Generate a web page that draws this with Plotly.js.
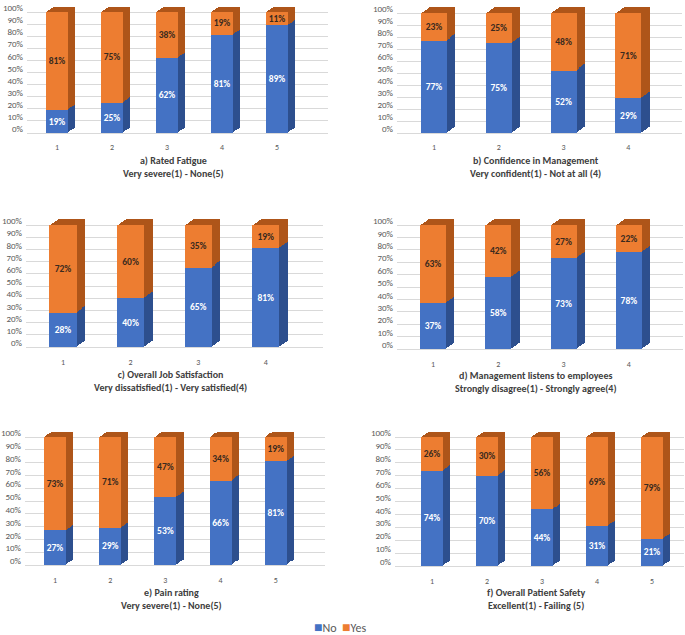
<!DOCTYPE html>
<html>
<head>
<meta charset="utf-8">
<script src="https://cdn.plot.ly/plotly-3.0.1.min.js"></script>
<style>
  html, body { margin: 0; padding: 0; background: #fff; }
  #chart { width: 685px; height: 635px; }
</style>
</head>
<body>
<div id="chart"></div>
<script>
// data (percent of respondents)
const levels5 = [1, 2, 3, 4, 5];
const levels4 = [1, 2, 3, 4];

const fatigueNo = [19, 25, 62, 81, 89];
const fatigueYes = [81, 75, 38, 19, 11];

const confidenceNo = [77, 75, 52, 29];
const confidenceYes = [23, 25, 48, 71];

const satisfactionNo = [28, 40, 65, 81];
const satisfactionYes = [72, 60, 35, 19];

const listensNo = [37, 58, 73, 78];
const listensYes = [63, 42, 27, 22];

const painNo = [27, 29, 53, 66, 81];
const painYes = [73, 71, 47, 34, 19];

const safetyNo = [74, 70, 44, 31, 21];
const safetyYes = [26, 30, 56, 69, 79];

const seriesNames = ['No', 'Yes'];

const panelTitles = [
  ['a) Rated Fatigue', 'Very severe(1) - None(5)'],
  ['b) Confidence in Management', 'Very confident(1) - Not at all (4)'],
  ['c) Overall Job Satisfaction', 'Very dissatisfied(1) - Very satisfied(4)'],
  ['d) Management listens to employees', 'Strongly disagree(1) - Strongly agree(4)'],
  ['e) Pain rating', 'Very severe(1) - None(5)'],
  ['f) Overall Patient Safety', 'Excellent(1) - Failing (5)']
];

const panelData = [
  [levels5, fatigueNo, fatigueYes],
  [levels4, confidenceNo, confidenceYes],
  [levels4, satisfactionNo, satisfactionYes],
  [levels4, listensNo, listensYes],
  [levels5, painNo, painYes],
  [levels5, safetyNo, safetyYes]
];

// where each panel sits, in page pixels
const W = 685, H = 635;
const geom = [
  {tick1: 57,  dx: 55,   top: 12,  bot: 133, left: 27,  right: 328, titleY: 167},
  {tick1: 434, dx: 64.8, top: 13,  bot: 133, left: 397, right: 682, titleY: 167},
  {tick1: 63,  dx: 67.6, top: 225, bot: 347, left: 26,  right: 323, titleY: 381},
  {tick1: 433, dx: 65.3, top: 225, bot: 349, left: 397, right: 683, titleY: 382},
  {tick1: 55,  dx: 55.2, top: 437, bot: 565, left: 25,  right: 325, titleY: 599},
  {tick1: 432, dx: 55,   top: 437, bot: 566, left: 395, right: 684, titleY: 599}
];

const BLUE = '#4472C4', ORANGE = '#ED7D31';
const BLUE_DARK = '#2D4F8E', ORANGE_DARK = '#AE5519';
const FONT = 'Calibri, Carlito, "Liberation Sans Narrow", "Liberation Sans", Arial, sans-serif';
const barW = 0.4;
const pad = 7;
const LAYERS = 6; // extrusion steps for the fake 3D depth

const traces = [];
const layout = {
  width: W, height: H,
  margin: {l: 0, r: 0, t: 0, b: 0},
  paper_bgcolor: '#fff', plot_bgcolor: 'rgba(0,0,0,0)',
  barmode: 'stack',
  showlegend: false,
  font: {family: FONT, color: '#595959'},
  annotations: []
};

panelData.forEach(function (pd, i) {
  const g = geom[i];
  const cats = pd[0], no = pd[1], yes = pd[2];
  const h = g.bot - g.top;
  const pxPerPct = h / 100;
  const barPx = barW * g.dx;
  const sideX = 0.32 * barPx, sideY = 0.24 * barPx;

  const L = 1 + (g.left - g.tick1) / g.dx;
  const R = 1 + (g.right - g.tick1) / g.dx;
  const yLo = -pad, yHi = 100 + pad;
  const domY = [1 - (g.bot + pad * pxPerPct) / H, 1 - (g.top - pad * pxPerPct) / H];
  const domX = [g.left / W, g.right / W];

  const baseIdx = i * (LAYERS + 1) + 1;

  // layer LAYERS is the deepest (base axes), layer 0 is the front face
  for (let k = LAYERS; k >= 0; k--) {
    const idx = baseIdx + (LAYERS - k);
    const sx = sideX * k / LAYERS, sy = sideY * k / LAYERS;
    const xa = {domain: domX, range: [L - sx / g.dx, R - sx / g.dx], anchor: 'y' + idx, fixedrange: true};
    const ya = {domain: domY, range: [yLo - sy / pxPerPct, yHi - sy / pxPerPct], anchor: 'x' + idx, fixedrange: true};
    if (idx !== baseIdx) {
      xa.overlaying = 'x' + baseIdx;
      ya.overlaying = 'y' + baseIdx;
    }
    const front = k === 0;
    if (!front) {
      xa.visible = false;
      ya.visible = false;
    } else {
      Object.assign(xa, {tickmode: 'array', tickvals: cats, ticktext: cats.map(String),
        showgrid: false, zeroline: false, showline: false, ticks: '',
        tickfont: {size: 8, color: '#595959', family: FONT}});
      Object.assign(ya, {tick0: 0, dtick: 10, ticksuffix: '%', showgrid: true, gridcolor: '#D9D9D9',
        gridwidth: 1, zeroline: false, showline: false, ticks: '',
        ticklabelshift: -4, ticklabelstandoff: 3,
        tickfont: {size: 9, color: '#595959', family: FONT}});
    }
    layout['xaxis' + idx] = xa;
    layout['yaxis' + idx] = ya;

    traces.push({type: 'bar', name: seriesNames[0], legendgroup: 'no',
      x: cats, y: no, width: barW, xaxis: 'x' + idx, yaxis: 'y' + idx,
      marker: {color: front ? BLUE : BLUE_DARK, line: {width: 0}},
      text: front ? no.map(v => v + '%') : null, textposition: front ? 'inside' : 'none',
      insidetextanchor: 'middle', textangle: 0, constraintext: 'none',
      textfont: {size: 9.5, color: '#ffffff', family: FONT, weight: 'bold'}, hoverinfo: 'skip'});
    traces.push({type: 'bar', name: seriesNames[1], legendgroup: 'yes',
      x: cats, y: yes, width: barW, xaxis: 'x' + idx, yaxis: 'y' + idx,
      marker: {color: front ? ORANGE : ORANGE_DARK, line: {width: 0}},
      text: front ? yes.map(v => v + '%') : null, textposition: front ? 'inside' : 'none',
      insidetextanchor: 'middle', textangle: 0, constraintext: 'none',
      textfont: {size: 9.5, color: '#3A2A1E', family: FONT, weight: 'bold'}, hoverinfo: 'skip'});
  }

  layout.annotations.push({
    xref: 'paper', yref: 'paper',
    x: ((g.left + g.right) / 2 - 4) / W, y: 1 - g.titleY / H,
    xanchor: 'center', yanchor: 'middle', showarrow: false,
    text: '<b>' + panelTitles[i][0] + '</b><br><b>' + panelTitles[i][1] + '</b>',
    font: {size: 10, color: '#404040', family: FONT}
  });
});

// compact legend like the original (swatch right next to its label)
layout.annotations.push({
  xref: 'paper', yref: 'paper', x: 340 / W, y: 1 - 627 / H,
  xanchor: 'center', yanchor: 'middle', showarrow: false,
  text: '<span style="color:' + BLUE + ';font-size:14px">■</span>' + seriesNames[0] +
        '&nbsp;&nbsp;<span style="color:' + ORANGE + ';font-size:14px">■</span>' + seriesNames[1],
  font: {size: 12, color: '#595959', family: FONT}
});

Plotly.newPlot('chart', traces, layout, {displayModeBar: false, staticPlot: true});
</script>
</body>
</html>
